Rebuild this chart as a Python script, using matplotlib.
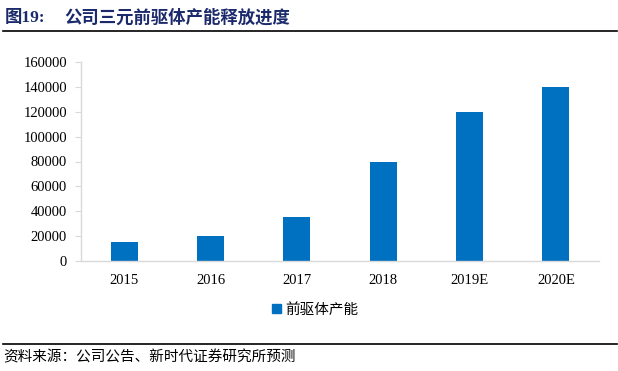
import matplotlib
matplotlib.use("Agg")
import matplotlib.pyplot as plt
from matplotlib.lines import Line2D
from matplotlib.patches import Patch

years = ['2015', '2016', '2017', '2018', '2019E', '2020E']
capacity = [15000, 20000, 35000, 80000, 120000, 140000]
yticks = [0, 20000, 40000, 60000, 80000, 100000, 120000, 140000, 160000]

title_num = '图19:'
title_text = '公司三元前驱体产能释放进度'
legend_label = '前驱体产能'
source = '资料来源：公司公告、新时代证券研究所预测'

cjk = ['Noto Sans CJK SC', 'DejaVu Sans']
serif = ['Liberation Serif', 'DejaVu Serif']
serif_cjk = ['Liberation Serif', 'Noto Sans CJK SC']
blue = '#0070C0'
navy = '#1B2A6B'
grey = '#D9D9D9'

fig = plt.figure(figsize=(6.18, 3.71), dpi=100)
ax = fig.add_axes([81 / 618, 1 - 261 / 371, 518 / 618, 199 / 371])

ax.bar(range(len(years)), capacity, width=0.31, color=blue, zorder=2)
ax.set_xlim(-0.5, len(years) - 0.5)
ax.set_ylim(0, 160000)
ax.set_yticks(yticks)
ax.set_yticklabels([str(v) for v in yticks], family=serif, fontsize=10.5)
ax.set_xticks(range(len(years)))
ax.set_xticklabels(years, family=serif, fontsize=10.5)

for s in ['top', 'right']:
    ax.spines[s].set_visible(False)
for s in ['left', 'bottom']:
    ax.spines[s].set_color(grey)
    ax.spines[s].set_linewidth(1)
ax.tick_params(axis='y', length=4, color=grey, pad=6)
ax.tick_params(axis='x', length=0, pad=9)

fig.legend(handles=[Patch(color=blue, label=legend_label)],
           loc='center', bbox_to_anchor=(315 / 618, 1 - 310 / 371),
           frameon=False, prop={'family': cjk, 'size': 10.5},
           handlelength=0.6, handleheight=0.6, handletextpad=0.3)

# title and source lines
fig.text(5 / 618, 1 - 18 / 371, title_num, family=serif_cjk, fontsize=12.5,
         fontweight='bold', color=navy, va='center')
fig.text(64 / 618, 1 - 18 / 371, title_text, family=cjk, fontsize=12.5,
         fontweight='bold', color=navy, va='center')
fig.add_artist(Line2D([3 / 618, 617 / 618], [1 - 31 / 371, 1 - 31 / 371],
                      color='black', lw=1.2, transform=fig.transFigure))
fig.add_artist(Line2D([3 / 618, 617 / 618], [1 - 344 / 371, 1 - 344 / 371],
                      color='black', lw=1.2, transform=fig.transFigure))
fig.text(3 / 618, 1 - 357 / 371, source, family=cjk, fontsize=10.5,
         color='black', va='center')

fig.savefig('out.png', dpi=100, facecolor='w')
